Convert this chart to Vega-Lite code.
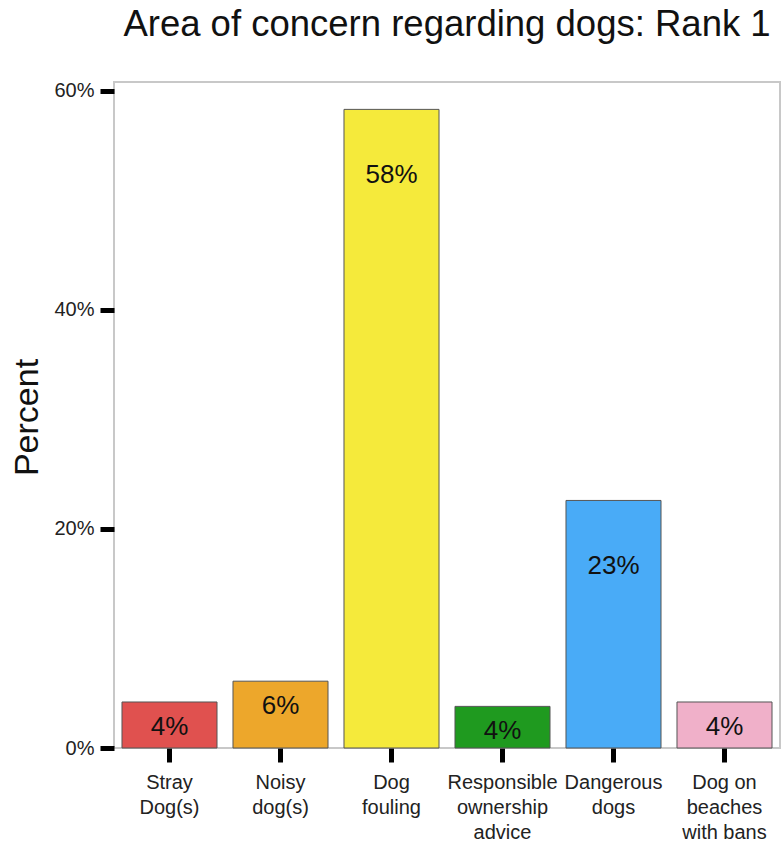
{
  "$schema": "https://vega.github.io/schema/vega-lite/v6.json",
  "width": 666,
  "height": 666,
  "autosize": {"type": "none"},
  "padding": {"left": 114, "top": 82, "right": 1, "bottom": 93},
  "background": "white",
  "config": {
    "font": "Liberation Sans",
    "view": {"stroke": "#c8c8c8", "strokeWidth": 2}
  },
  "title": {
    "text": "Area of concern regarding dogs: Rank 1",
    "fontSize": 36.5,
    "fontWeight": "normal",
    "color": "#111111",
    "anchor": "middle",
    "baseline": "alphabetic",
    "offset": 8
  },
  "data": {
    "values": [
      {"category": "Stray Dog(s)", "pct": 0.042},
      {"category": "Noisy dog(s)", "pct": 0.061},
      {"category": "Dog fouling", "pct": 0.583},
      {"category": "Responsible ownership advice", "pct": 0.038},
      {"category": "Dangerous dogs", "pct": 0.226},
      {"category": "Dog on beaches with bans", "pct": 0.042}
    ]
  },
  "encoding": {
    "x": {
      "field": "category",
      "type": "nominal",
      "sort": null,
      "scale": {"paddingInner": 0.144, "paddingOuter": 0.072},
      "axis": {
        "title": null,
        "domain": false,
        "labelAngle": 0,
        "labelFontSize": 20,
        "labelColor": "#222222",
        "labelLineHeight": 25,
        "labelPadding": 10,
        "tickSize": 14,
        "tickWidth": 5,
        "tickColor": "#000000",
        "labelExpr": "{'Stray Dog(s)': ['Stray', 'Dog(s)'], 'Noisy dog(s)': ['Noisy', 'dog(s)'], 'Dog fouling': ['Dog', 'fouling'], 'Responsible ownership advice': ['Responsible', 'ownership', 'advice'], 'Dangerous dogs': ['Dangerous', 'dogs'], 'Dog on beaches with bans': ['Dog on', 'beaches', 'with bans']}[datum.label]"
      }
    },
    "y": {
      "field": "pct",
      "type": "quantitative",
      "scale": {"domain": [0, 0.608], "nice": false},
      "axis": {
        "title": "Percent",
        "values": [0, 0.2, 0.4, 0.6],
        "format": ".0%",
        "grid": false,
        "domain": false,
        "labelFontSize": 20,
        "labelColor": "#222222",
        "labelPadding": 6,
        "tickSize": 14,
        "tickWidth": 5,
        "tickColor": "#000000",
        "titleFontSize": 34,
        "titleFontWeight": "normal",
        "titleColor": "#111111",
        "titleAngle": -90,
        "titleX": -77,
        "titleY": 335,
        "titleAlign": "center",
        "titleBaseline": "alphabetic"
      }
    }
  },
  "layer": [
    {
      "mark": {"type": "bar", "stroke": "#555555", "strokeWidth": 1},
      "encoding": {
        "color": {
          "field": "category",
          "type": "nominal",
          "legend": null,
          "scale": {
            "domain": ["Stray Dog(s)", "Noisy dog(s)", "Dog fouling", "Responsible ownership advice", "Dangerous dogs", "Dog on beaches with bans"],
            "range": ["#e0514f", "#eda72b", "#f5ea3b", "#1f9a1f", "#49abf7", "#f0b0c9"]
          }
        }
      }
    },
    {
      "transform": [{"filter": "datum.pct >= 0.12"}],
      "mark": {"type": "text", "fontSize": 26, "color": "#111111", "baseline": "middle", "dy": 66},
      "encoding": {"text": {"field": "pct", "type": "quantitative", "format": ".0%"}}
    },
    {
      "transform": [{"filter": "datum.pct < 0.12"}],
      "mark": {"type": "text", "fontSize": 26, "color": "#111111", "baseline": "middle", "dy": 25},
      "encoding": {"text": {"field": "pct", "type": "quantitative", "format": ".0%"}}
    }
  ]
}
